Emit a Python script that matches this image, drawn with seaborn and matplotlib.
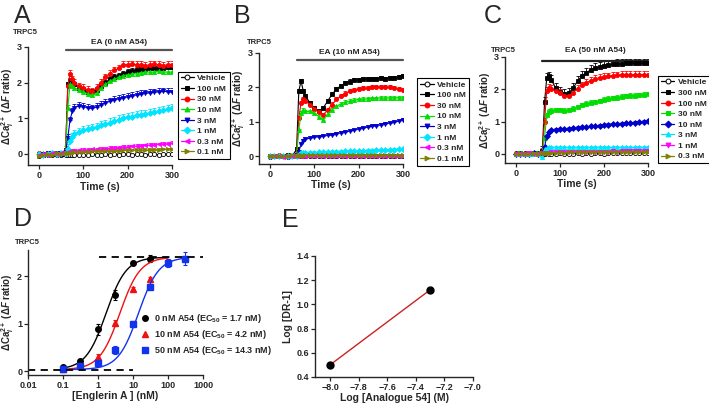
import numpy as np
import matplotlib
matplotlib.use("Agg")
import matplotlib.pyplot as plt
import seaborn as sns
from matplotlib.lines import Line2D
from matplotlib.ticker import NullLocator

sns.set_style("ticks")
plt.rcParams["font.family"] = ["Liberation Sans", "DejaVu Sans"]
plt.rcParams["font.weight"] = "bold"
plt.rcParams["mathtext.fontset"] = "custom"
plt.rcParams["mathtext.rm"] = "Liberation Sans:bold"
plt.rcParams["mathtext.it"] = "Liberation Sans:italic:bold"
plt.rcParams["mathtext.bf"] = "Liberation Sans:bold"
plt.rcParams["mathtext.default"] = "rm"

W, H = 709, 403

# ---- time traces (s) ----
times = [0, 10, 20, 30, 40, 50, 60, 65, 70, 75, 80, 90, 100, 110, 120, 130,
         140, 150, 160, 170, 180, 190, 200, 210, 220, 230, 240, 250, 260, 270, 280, 290, 300]

# panel A: EA (0 nM A54)
a_labels = ["Vehicle", "100 nM", "30 nM", "10 nM", "3 nM", "1 nM", "0.3 nM", "0.1 nM"]
a_veh = [-0.05, -0.04, -0.03, -0.04, -0.02, -0.03, -0.04, -0.03, -0.02, -0.02, -0.03, -0.02, -0.03, -0.02, -0.01, -0.02,
         -0.02, -0.01, -0.02, -0.01, -0.02, -0.01, -0.01, -0.02, -0.01, -0.01, -0.02, -0.01, -0.01, -0.02, -0.01, -0.01, -0.01]
a_100 = [0.0, -0.02, 0.01, 0.0, 0.02, 0.01, 0.1, 1.95, 2.05, 2.0, 1.95, 1.85, 1.8, 1.75, 1.75, 1.8,
         1.9, 2.0, 2.1, 2.15, 2.2, 2.25, 2.3, 2.33, 2.35, 2.37, 2.38, 2.4, 2.4, 2.4, 2.42, 2.43, 2.45]
a_30 = [0.02, 0.0, 0.03, 0.01, 0.04, 0.02, 0.12, 1.9, 2.25, 2.1, 2.0, 1.9, 1.85, 1.8, 1.75, 1.85,
        2.0, 2.15, 2.25, 2.35, 2.4, 2.5, 2.5, 2.52, 2.5, 2.5, 2.48, 2.5, 2.52, 2.5, 2.48, 2.5, 2.5]
a_10 = [0.0, 0.02, -0.01, 0.03, 0.02, 0.04, 0.08, 1.3, 1.95, 1.9, 1.85, 1.8, 1.75, 1.68, 1.65, 1.7,
        1.85, 1.95, 2.05, 2.1, 2.15, 2.2, 2.22, 2.25, 2.25, 2.28, 2.3, 2.3, 2.3, 2.32, 2.3, 2.3, 2.3]
a_3 = [-0.02, 0.0, 0.02, 0.0, 0.03, 0.02, 0.05, 0.45, 0.95, 1.2, 1.3, 1.35, 1.33, 1.3, 1.28, 1.32,
       1.38, 1.43, 1.48, 1.52, 1.55, 1.58, 1.6, 1.63, 1.66, 1.68, 1.7, 1.72, 1.73, 1.75, 1.76, 1.75, 1.75]
a_1 = [0.0, -0.02, 0.01, 0.02, 0.0, 0.03, 0.02, 0.15, 0.35, 0.48, 0.55, 0.62, 0.67, 0.7, 0.73, 0.76,
       0.8, 0.84, 0.88, 0.92, 0.96, 1.0, 1.03, 1.05, 1.08, 1.1, 1.12, 1.15, 1.17, 1.2, 1.22, 1.25, 1.28]
a_03 = [-0.03, 0.0, -0.02, 0.02, 0.0, 0.03, 0.04, 0.06, 0.08, 0.08, 0.09, 0.1, 0.11, 0.12, 0.13, 0.13,
        0.14, 0.15, 0.16, 0.17, 0.18, 0.19, 0.2, 0.21, 0.22, 0.23, 0.24, 0.25, 0.26, 0.27, 0.28, 0.29, 0.3]
a_01 = [-0.05, -0.03, 0.0, -0.02, 0.02, 0.0, 0.02, 0.03, 0.04, 0.04, 0.05, 0.05, 0.06, 0.06, 0.07, 0.07,
        0.07, 0.08, 0.08, 0.09, 0.09, 0.1, 0.1, 0.1, 0.11, 0.11, 0.11, 0.12, 0.12, 0.12, 0.13, 0.13, 0.13]
a_sem = [0.02, 0.08, 0.1, 0.08, 0.1, 0.12, 0.05, 0.05]

# panel B: EA (10 nM A54)
b_labels = ["Vehicle", "100 nM", "30 nM", "10 nM", "3 nM", "1 nM", "0.3 nM", "0.1 nM"]
b_veh = [-0.02, 0.0, -0.01, 0.01, -0.02, 0.0, -0.01, 0.0, -0.01, 0.01, 0.0, -0.01, 0.0, 0.01, -0.01, 0.0,
         0.01, -0.01, 0.0, 0.01, 0.0, -0.01, 0.0, 0.01, 0.0, -0.01, 0.0, 0.01, 0.0, 0.0, -0.01, 0.0, 0.0]
b_100 = [0.0, 0.01, -0.01, 0.0, 0.02, 0.0, 0.2, 1.9, 2.18, 1.9, 1.75, 1.55, 1.4, 1.3, 1.4, 1.6,
         1.8, 1.95, 2.05, 2.12, 2.17, 2.2, 2.22, 2.23, 2.25, 2.25, 2.25, 2.27, 2.25, 2.27, 2.28, 2.3, 2.32]
b_30 = [0.01, 0.0, 0.02, -0.01, 0.0, 0.01, 0.05, 1.1, 1.55, 1.65, 1.6, 1.5, 1.38, 1.27, 1.2, 1.35,
        1.5, 1.65, 1.75, 1.82, 1.88, 1.92, 1.95, 1.97, 1.98, 2.0, 2.0, 2.02, 2.0, 2.0, 1.98, 1.95, 1.93]
b_10 = [0.0, -0.01, 0.01, 0.0, 0.01, 0.0, 0.03, 0.75, 1.25, 1.35, 1.3, 1.3, 1.25, 1.15, 1.05, 1.22,
        1.35, 1.45, 1.52, 1.57, 1.6, 1.63, 1.65, 1.66, 1.67, 1.68, 1.68, 1.7, 1.69, 1.7, 1.7, 1.7, 1.7]
b_3 = [0.0, 0.01, -0.01, 0.0, 0.01, 0.0, 0.02, 0.12, 0.35, 0.45, 0.5, 0.52, 0.55, 0.57, 0.58, 0.6,
       0.62, 0.65, 0.68, 0.7, 0.73, 0.76, 0.79, 0.82, 0.84, 0.87, 0.89, 0.91, 0.94, 0.96, 0.98, 1.02, 1.06]
b_1 = [0.0, 0.0, 0.01, -0.01, 0.0, 0.01, 0.0, 0.04, 0.08, 0.09, 0.1, 0.1, 0.1, 0.11, 0.11, 0.12,
       0.12, 0.13, 0.13, 0.14, 0.14, 0.15, 0.15, 0.15, 0.16, 0.16, 0.17, 0.17, 0.18, 0.18, 0.19, 0.2, 0.2]
b_03 = [-0.01, 0.0, 0.01, -0.02, 0.0, -0.01, 0.0, 0.01, 0.0, -0.01, 0.0, 0.01, -0.01, 0.0, 0.01, 0.0,
        -0.01, 0.0, 0.01, 0.0, -0.01, 0.0, 0.01, 0.0, -0.01, 0.0, 0.0, 0.01, 0.0, -0.01, 0.0, 0.01, 0.0]
b_01 = [0.01, -0.01, 0.0, 0.01, 0.0, 0.02, 0.01, 0.02, 0.02, 0.01, 0.02, 0.02, 0.03, 0.02, 0.03, 0.02,
        0.03, 0.03, 0.02, 0.03, 0.03, 0.04, 0.03, 0.03, 0.04, 0.03, 0.04, 0.04, 0.03, 0.04, 0.04, 0.04, 0.04]
b_sem = [0.02, 0.06, 0.06, 0.05, 0.04, 0.04, 0.02, 0.02]

# panel C: EA (50 nM A54)
c_labels = ["Vehicle", "300 nM", "100 nM", "30 nM", "10 nM", "3 nM", "1 nM", "0.3 nM"]
c_veh = [0.0, 0.01, -0.01, 0.0, 0.01, 0.0, -0.02, 0.0, 0.02, 0.01, 0.0, 0.01, 0.02, 0.01, 0.0, 0.01,
         0.02, 0.01, 0.02, 0.01, 0.02, 0.02, 0.01, 0.02, 0.03, 0.02, 0.02, 0.03, 0.02, 0.03, 0.02, 0.03, 0.03]
c_300 = [0.0, 0.02, 0.01, 0.0, 0.02, 0.03, 0.1, 1.6, 2.35, 2.4, 2.3, 2.05, 1.92, 1.85, 1.88, 2.05,
         2.25, 2.42, 2.52, 2.6, 2.65, 2.7, 2.73, 2.75, 2.77, 2.78, 2.78, 2.8, 2.8, 2.8, 2.8, 2.8, 2.8]
c_100 = [0.02, 0.0, 0.03, 0.01, 0.02, 0.04, 0.05, 1.0, 1.95, 2.05, 2.0, 1.95, 1.88, 1.8, 1.78, 1.9,
         2.02, 2.12, 2.2, 2.27, 2.32, 2.36, 2.38, 2.4, 2.42, 2.43, 2.44, 2.45, 2.45, 2.45, 2.45, 2.45, 2.45]
c_30 = [0.0, 0.02, 0.0, 0.03, 0.01, 0.02, 0.04, 0.5, 1.2, 1.3, 1.33, 1.35, 1.35, 1.33, 1.35, 1.4,
        1.45, 1.5, 1.55, 1.58, 1.6, 1.63, 1.67, 1.7, 1.72, 1.74, 1.76, 1.78, 1.8, 1.8, 1.82, 1.83, 1.85]
c_10 = [0.0, 0.01, -0.01, 0.0, 0.02, 0.0, 0.02, 0.2, 0.55, 0.68, 0.73, 0.75, 0.76, 0.77, 0.78, 0.8,
        0.81, 0.83, 0.84, 0.86, 0.87, 0.88, 0.9, 0.91, 0.92, 0.93, 0.94, 0.95, 0.96, 0.97, 0.98, 1.0, 1.02]
c_3 = [0.0, -0.01, 0.01, 0.0, 0.01, 0.0, -0.1, 0.15, 0.18, 0.2, 0.2, 0.2, 0.2, 0.21, 0.2, 0.2,
       0.2, 0.21, 0.2, 0.2, 0.2, 0.21, 0.2, 0.2, 0.2, 0.21, 0.2, 0.2, 0.2, 0.2, 0.21, 0.2, 0.2]
c_1 = [0.0, 0.01, 0.0, 0.02, 0.01, 0.0, 0.02, 0.03, 0.04, 0.04, 0.05, 0.05, 0.05, 0.06, 0.05, 0.06,
       0.06, 0.06, 0.07, 0.06, 0.07, 0.07, 0.07, 0.07, 0.08, 0.07, 0.08, 0.08, 0.08, 0.08, 0.08, 0.08, 0.08]
c_03 = [-0.01, 0.0, 0.01, 0.0, 0.02, 0.01, 0.02, 0.03, 0.03, 0.04, 0.04, 0.04, 0.05, 0.04, 0.05, 0.05,
        0.05, 0.05, 0.06, 0.05, 0.06, 0.06, 0.06, 0.06, 0.06, 0.07, 0.06, 0.07, 0.07, 0.07, 0.07, 0.07, 0.07]
c_sem = [0.02, 0.15, 0.12, 0.08, 0.04, 0.05, 0.03, 0.03]

# ---- panel D: concentration-response ----
d_labels = ["0 nM A54 (EC$_{50}$ = 1.7 nM)", "10 nM A54 (EC$_{50}$ = 4.2 nM)", "50 nM A54 (EC$_{50}$ = 14.3 nM)"]
d_conc0 = [0.1, 0.3, 1, 3, 10, 30]
d_resp0 = [0.08, 0.22, 0.88, 1.6, 2.27, 2.37]
d_sem0 = [0.03, 0.04, 0.12, 0.1, 0.04, 0.07]
d_conc10 = [0.1, 0.3, 1, 3, 10, 30, 100]
d_resp10 = [0.05, 0.1, 0.3, 1.02, 1.72, 1.93, 2.3]
d_sem10 = [0.02, 0.03, 0.05, 0.05, 0.04, 0.05, 0.06]
d_conc50 = [0.1, 0.3, 1, 3, 10, 30, 100, 300]
d_resp50 = [0.05, 0.1, 0.16, 0.44, 1.0, 1.78, 2.28, 2.37]
d_sem50 = [0.02, 0.03, 0.03, 0.08, 0.06, 0.05, 0.08, 0.13]
d_ec50 = [1.7, 4.2, 14.3]
d_fit_end = [100, 100, 300]
hill_top, hill_bottom, hill_n = 2.4, 0.03, 1.5

# ---- panel E: Schild plot ----
e_logconc = [-8.0, -7.3]
e_logdr = [0.5, 1.12]

TRACE_COLORS = ["black", "black", "#ff0000", "#00dd00", "#0000cc", "#00e5ff", "#ff00ff", "#808000"]
TRACE_FACES = ["white", "black", "#ff0000", "#00dd00", "#0000cc", "#00e5ff", "#ff00ff", "#808000"]
A_MARKERS = ["o", "s", "o", "^", "v", "D", "<", ">"]
C_MARKERS = ["o", "s", "o", "s", "D", "^", "v", ">"]
YLABEL = r"ΔCa$_\mathit{i}^{2+}$ (Δ$\mathit{F}$ ratio)"


def fig_box(x0, y0, x1, y1):
    return [x0 / W, 1 - y1 / H, (x1 - x0) / W, (y1 - y0) / H]


def fig_text(x, y, s, **kw):
    fig.text(x / W, 1 - y / H, s, **kw)


def style_axis(ax, ylab_x, xlab_y):
    sns.despine(ax=ax)
    for sp in ax.spines.values():
        sp.set_linewidth(1.0)
    ax.tick_params(direction="out", length=3, width=0.9, labelsize=6.5, pad=1.2)
    for lab in ax.get_xticklabels() + ax.get_yticklabels():
        lab.set_fontweight("bold")
    ax.yaxis.set_label_coords(ylab_x, 0.5)
    ax.xaxis.set_label_coords(0.5, xlab_y)


def draw_traces(ax, series, labels, markers, sems, title, bar_y, text_y, ylo, anchor, bar_color):
    t = np.array(times)
    late = t >= 60
    for vals, c, fc, m, s in zip(series, TRACE_COLORS, TRACE_FACES, markers, sems):
        y = np.array(vals)
        n = int(late.sum())
        ax.errorbar(t[late], y[late], yerr=[np.zeros(n), np.full(n, s)], fmt="none",
                    ecolor=c, elinewidth=0.6, capsize=1.2, capthick=0.6, zorder=2)
        sns.lineplot(x=t, y=y, ax=ax, color=c, marker=m, markersize=3, markerfacecolor=fc,
                     markeredgecolor=c, markeredgewidth=0.6, linewidth=0.8,
                     legend=False, errorbar=None, zorder=3)
    ax.set_xlim(-24.8, 300)
    ax.set_ylim(ylo, 3.0)
    ax.set_xticks([0, 100, 200, 300])
    ax.set_yticks([0, 1, 2, 3])
    ax.set_xlabel("Time (s)", fontsize=7.5, fontweight="bold")
    ax.set_ylabel(YLABEL, fontsize=7, fontweight="bold")
    ax.plot([60, 300], [bar_y, bar_y], color=bar_color, lw=1.6, clip_on=False)
    ax.text(180, text_y, title, ha="center", va="center", fontsize=6, fontweight="bold", clip_on=False)
    handles = [Line2D([0], [0], color=c, marker=m, markersize=3.5, markerfacecolor=fc,
                      markeredgecolor=c, markeredgewidth=0.7, lw=0.9)
               for c, fc, m in zip(TRACE_COLORS, TRACE_FACES, markers)]
    leg = ax.legend(handles, labels, loc="center left", bbox_to_anchor=anchor, borderaxespad=0,
                    frameon=True, fancybox=False, edgecolor="black", framealpha=1,
                    prop={"size": 6, "weight": "bold"}, handlelength=1.6, handletextpad=0.4,
                    labelspacing=0.33, borderpad=0.35)
    leg.get_frame().set_linewidth(0.8)


fig = plt.figure(figsize=(W / 100, H / 100), dpi=100)

axA = fig.add_axes(fig_box(28, 47, 172, 165))
draw_traces(axA, [a_veh, a_100, a_30, a_10, a_3, a_1, a_03, a_01], a_labels, A_MARKERS, a_sem,
            "EA (0 nM A54)", 2.92, 3.14, -0.31, (1.04, 0.42), "#555555")
style_axis(axA, -0.085, -0.14)

axB = fig.add_axes(fig_box(259, 53, 403, 164))
draw_traces(axB, [b_veh, b_100, b_30, b_10, b_3, b_1, b_03, b_01], b_labels, A_MARKERS, b_sem,
            "EA (10 nM A54)", 2.8, 3.02, -0.23, (1.10, 0.38), "#555555")
style_axis(axB, -0.085, -0.145)

axC = fig.add_axes(fig_box(505, 57, 648, 163))
draw_traces(axC, [c_veh, c_300, c_100, c_30, c_10, c_3, c_1, c_03], c_labels, C_MARKERS, c_sem,
            "EA (50 nM A54)", 2.88, 3.2, -0.28, (1.07, 0.41), "#222222")
style_axis(axC, -0.08, -0.15)

# ---- D ----
axD = fig.add_axes(fig_box(28, 250, 203, 375))
d_colors = ["black", "#ee1111", "#1133ee"]
d_markers = ["o", "^", "s"]
d_sets = [(d_conc0, d_resp0, d_sem0), (d_conc10, d_resp10, d_sem10), (d_conc50, d_resp50, d_sem50)]
for (cx, ry, se), col, mk, ec, end, lab in zip(d_sets, d_colors, d_markers, d_ec50, d_fit_end, d_labels):
    xs = np.logspace(-1, np.log10(end), 200)
    fit = hill_bottom + (hill_top - hill_bottom) * xs ** hill_n / (xs ** hill_n + ec ** hill_n)
    sns.lineplot(x=xs, y=fit, ax=axD, color=col, linewidth=1.0, legend=False, errorbar=None)
    axD.errorbar(cx, ry, yerr=se, fmt="none", ecolor=col, elinewidth=0.8, capsize=1.5, capthick=0.8)
    axD.plot(cx, ry, linestyle="none", marker=mk, color=col, markersize=4, label=lab)
axD.plot([1.1, 1000], [2.4, 2.4], color="black", lw=1.3, dashes=(4, 3), clip_on=False)
axD.plot([0.01, 10], [0.02, 0.02], color="black", lw=1.3, dashes=(4, 3), clip_on=False)
axD.set_xscale("log")
axD.set_xlim(0.01, 1000)
axD.set_ylim(-0.084, 2.55)
axD.set_xticks([0.01, 0.1, 1, 10, 100, 1000])
axD.set_xticklabels(["0.01", "0.1", "1", "10", "100", "1000"])
axD.xaxis.set_minor_locator(NullLocator())
axD.set_yticks([0, 1, 2])
axD.set_xlabel("[Englerin A ] (nM)", fontsize=7.5, fontweight="bold")
axD.set_ylabel(YLABEL, fontsize=7, fontweight="bold")
axD.legend(loc="upper left", bbox_to_anchor=(0.63, 0.53), frameon=False, borderaxespad=0,
           prop={"size": 6.5, "weight": "bold"}, handlelength=0.8, handletextpad=0.5, labelspacing=0.3)
style_axis(axD, -0.07, -0.13)

# ---- E ----
axE = fig.add_axes(fig_box(315, 256, 473, 377))
sns.lineplot(x=e_logconc, y=e_logdr, ax=axE, color="#cc2222", linewidth=1.0, legend=False, errorbar=None)
axE.plot(e_logconc, e_logdr, linestyle="none", marker="o", color="black", markersize=5, zorder=4)
axE.set_xlim(-8.105, -7.0)
axE.set_ylim(0.4, 1.4)
e_xticks = [-8.0, -7.8, -7.6, -7.4, -7.2, -7.0]
e_yticks = [0.4, 0.6, 0.8, 1.0, 1.2, 1.4]
axE.set_xticks(e_xticks)
axE.set_xticklabels([f"{v:.1f}".replace("-", "\u2212") for v in e_xticks])
axE.set_yticks(e_yticks)
axE.set_yticklabels([f"{v:.1f}" for v in e_yticks])
axE.set_xlabel("Log [Analogue 54] (M)", fontsize=7.5, fontweight="bold")
axE.set_ylabel("Log [DR-1]", fontsize=7.5, fontweight="bold")
style_axis(axE, -0.14, -0.13)

# panel letters and labels
for lx, ly, letter in [(14, 16, "A"), (234, 16, "B"), (484, 16, "C"), (14, 219, "D"), (282, 220, "E")]:
    fig_text(lx, ly, letter, fontsize=18, fontweight="normal", ha="left", va="center")
for tx, ty in [(13, 33), (247, 42), (491, 51), (15, 242)]:
    fig_text(tx, ty, "TRPC5", fontsize=5.5, fontweight="bold", ha="left", va="center")

fig.savefig("out.png", dpi=100)
